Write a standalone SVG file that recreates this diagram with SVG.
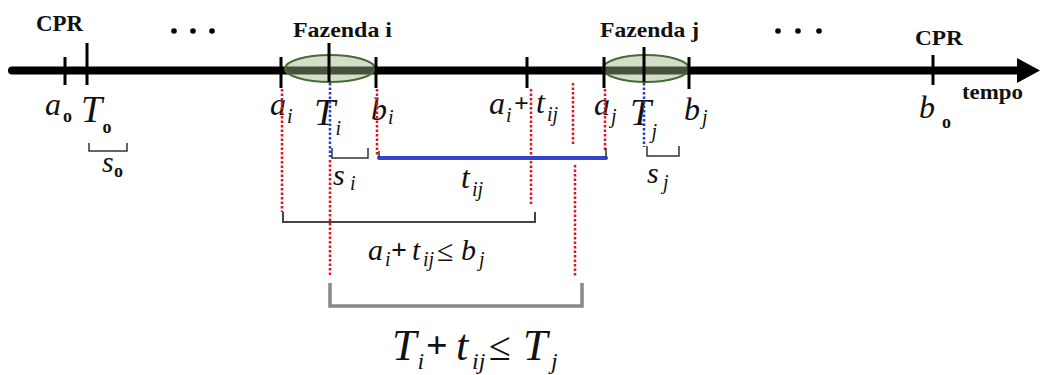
<svg xmlns="http://www.w3.org/2000/svg" width="1041" height="375" viewBox="0 0 1041 375">
<style>
.lbl{font-family:"Liberation Serif",serif;font-weight:bold;fill:#111}
.m{font-family:"Liberation Serif",serif;font-style:italic;fill:#111}
.u{font-style:normal}
.sb{font-style:normal;font-weight:bold}
.tick{stroke:#000;stroke-width:3}
.red{stroke:#e8101e;stroke-width:2.5;stroke-dasharray:2.5,2;fill:none}
.blue{stroke:#2a3ac8;stroke-width:2.5;stroke-dasharray:2.5,2;fill:none}
.br{stroke:#333;stroke-width:1.5;fill:none}
.farm{fill:#9db58a;fill-opacity:0.45;stroke:#4a6a35;stroke-width:2}
</style>
<rect width="1041" height="375" fill="#fff"/>
<g id="axis">
<line x1="12" y1="70.5" x2="1022" y2="70.5" stroke="#000" stroke-width="8" stroke-linecap="round"/>
<polygon points="1017,58 1040,70.5 1017,83" fill="#000"/>
<text class="lbl" x="962" y="99" font-size="22" textLength="61" lengthAdjust="spacingAndGlyphs">tempo</text>
<g fill="#000"><circle cx="174" cy="31" r="2.8"/><circle cx="193" cy="31" r="2.8"/><circle cx="212" cy="31" r="2.8"/>
<circle cx="778" cy="31" r="2.8"/><circle cx="798" cy="31" r="2.8"/><circle cx="819" cy="31" r="2.8"/></g>
</g>
<g id="cpr-start">
<text class="lbl" x="36" y="31" font-size="23" textLength="47" lengthAdjust="spacingAndGlyphs">CPR</text>
<line class="tick" x1="65" y1="57" x2="65" y2="85"/>
<line class="tick" x1="87" y1="43" x2="87" y2="85"/>
<text class="m" font-size="32"><tspan x="45" y="115">a</tspan><tspan class="sb" x="63" y="122" font-size="18">o</tspan><tspan x="81" y="122" font-size="38">T</tspan><tspan class="sb" x="102.5" y="133" font-size="18">o</tspan></text>
<path class="br" d="M89,143 V151 H127 V143"/>
<text class="m" font-size="30"><tspan x="102" y="172">s</tspan><tspan class="sb" x="114" y="177" font-size="18">o</tspan></text>
</g>
<g id="fazenda-i">
<text class="lbl" x="293" y="37" font-size="21" textLength="99" lengthAdjust="spacingAndGlyphs">Fazenda i</text>
<ellipse class="farm" cx="330" cy="68.5" rx="45" ry="13.5"/>
<line class="tick" x1="281" y1="57" x2="281" y2="88"/>
<line class="tick" x1="329" y1="43" x2="329" y2="82"/>
<line class="tick" x1="376" y1="57" x2="376" y2="88"/>
<text class="m" font-size="32"><tspan x="270" y="115">a</tspan><tspan x="287" y="123" font-size="20">i</tspan><tspan x="314" y="125" font-size="38">T</tspan><tspan x="335.5" y="135" font-size="20">i</tspan><tspan x="371" y="120">b</tspan><tspan x="388" y="124" font-size="20">i</tspan></text>
<path class="br" d="M332,148 V158 H368 V148"/>
<text class="m" font-size="30"><tspan x="333" y="185">s</tspan><tspan x="350" y="190" font-size="20">i</tspan></text>
</g>
<g id="ai-tij">
<line class="tick" x1="527" y1="57" x2="527" y2="88"/>
<text class="m" font-size="32"><tspan x="489" y="114">a</tspan><tspan x="506" y="122" font-size="20">i</tspan><tspan class="sb" x="514" y="112" font-size="26">+</tspan><tspan x="536" y="113">t</tspan><tspan x="547" y="121" font-size="20">ij</tspan></text>
</g>
<g id="fazenda-j">
<text class="lbl" x="600" y="37" font-size="21" textLength="99" lengthAdjust="spacingAndGlyphs">Fazenda j</text>
<ellipse class="farm" cx="646" cy="68.5" rx="43" ry="13.5"/>
<line class="tick" x1="604" y1="57" x2="604" y2="88"/>
<line class="tick" x1="644" y1="47" x2="644" y2="82"/>
<line class="tick" x1="689" y1="57" x2="689" y2="89"/>
<text class="m" font-size="32"><tspan x="594" y="115">a</tspan><tspan x="611" y="123" font-size="20">j</tspan><tspan x="630" y="125" font-size="38">T</tspan><tspan x="651.5" y="138" font-size="20">j</tspan><tspan x="684" y="120">b</tspan><tspan x="702" y="124" font-size="20">j</tspan></text>
<path class="br" d="M647,146 V156 H679 V146"/>
<text class="m" font-size="30"><tspan x="647" y="183">s</tspan><tspan x="663" y="189" font-size="20">j</tspan></text>
</g>
<g id="cpr-end">
<text class="lbl" x="915" y="45" font-size="21" textLength="48" lengthAdjust="spacingAndGlyphs">CPR</text>
<line class="tick" x1="933" y1="55" x2="933" y2="85"/>
<text class="m" font-size="32"><tspan x="919" y="118">b</tspan><tspan class="sb" x="942" y="128" font-size="18">o</tspan></text>
</g>
<g id="connectors">
<line class="blue" x1="330" y1="83" x2="330" y2="157"/>
<line class="blue" x1="644" y1="83" x2="644" y2="147"/>
<line class="red" x1="282" y1="89" x2="282" y2="212"/>
<line class="red" x1="377" y1="89" x2="377" y2="155"/>
<line class="red" x1="330" y1="160" x2="330" y2="275"/>
<line class="red" x1="531" y1="89" x2="531" y2="205"/>
<line class="red" x1="573" y1="83" x2="573" y2="145"/>
<line class="red" x1="575" y1="165" x2="575" y2="277"/>
<line class="red" x1="605" y1="89" x2="605" y2="150"/>
<line x1="379" y1="158" x2="606" y2="158" stroke="#3344cc" stroke-width="4" stroke-linecap="round"/>
<path class="br" d="M379,151 V158 M606,148 V158"/>
<path d="M283,212 V222 H535 V212" fill="none" stroke="#444" stroke-width="2"/>
<path d="M330,283 V306 H582 V283" fill="none" stroke="#888" stroke-width="3.5"/>
</g>
<g id="labels">
<text class="m" font-size="32"><tspan x="461" y="188">t</tspan><tspan x="472" y="196" font-size="20">ij</tspan></text>
<text class="m" font-size="30"><tspan x="368" y="260">a</tspan><tspan x="385" y="266" font-size="20">i</tspan><tspan class="sb" x="391" y="259" font-size="28">+</tspan><tspan x="412" y="260">t</tspan><tspan x="423" y="266" font-size="20">ij</tspan><tspan class="u" x="437" y="261">≤</tspan><tspan x="461" y="260">b</tspan><tspan x="479" y="266" font-size="20">j</tspan></text>
<text class="m" font-size="44"><tspan x="392" y="360">T</tspan><tspan x="417.5" y="369" font-size="24">i</tspan><tspan class="sb" x="426" y="358" font-size="38">+</tspan><tspan x="456" y="360">t</tspan><tspan x="472" y="369" font-size="24">ij</tspan><tspan class="u" x="489" y="360" font-size="40">≤</tspan><tspan x="523" y="360">T</tspan><tspan x="551" y="369" font-size="24">j</tspan></text>
</g>
</svg>
